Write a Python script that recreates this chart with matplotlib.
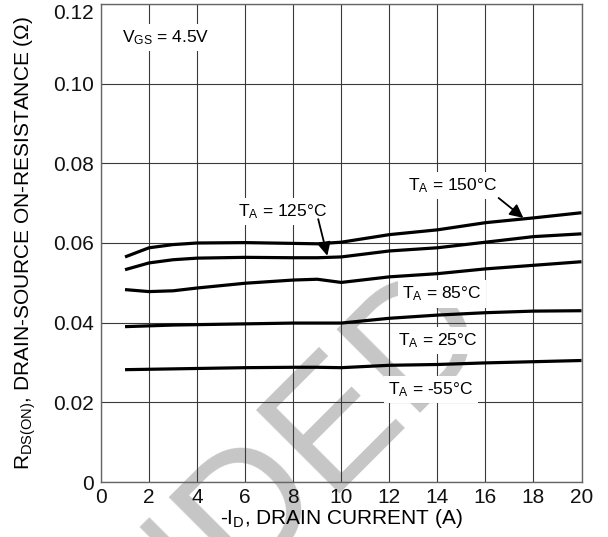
"""R_DS(ON) vs drain current at several ambient temperatures."""

import matplotlib

matplotlib.use("Agg")

import matplotlib.pyplot as plt


FONT = ["Liberation Sans", "DejaVu Sans"]

# curve data (drain current in A, R_DS(on) in ohm)
current_a = [1.0, 2, 3, 4, 6, 8, 9, 10, 12, 14, 16, 18, 20]
r_150c = [0.0565, 0.0588, 0.0596, 0.0600, 0.0601, 0.0599, 0.0598, 0.0602, 0.0621, 0.0633, 0.0651, 0.0663, 0.0676]
r_125c = [0.0533, 0.0550, 0.0558, 0.0562, 0.0564, 0.0563, 0.0563, 0.0565, 0.0580, 0.0588, 0.0602, 0.0616, 0.0623]
r_85c = [0.0483, 0.0478, 0.0480, 0.0487, 0.0499, 0.0507, 0.0509, 0.0501, 0.0515, 0.0523, 0.0535, 0.0544, 0.0553]
r_25c = [0.0390, 0.0392, 0.0394, 0.0395, 0.0397, 0.0399, 0.0399, 0.0399, 0.0411, 0.0419, 0.0425, 0.0429, 0.0430]
r_m55c = [0.0282, 0.0283, 0.0284, 0.0285, 0.0287, 0.0288, 0.0288, 0.0287, 0.0293, 0.0295, 0.0299, 0.0302, 0.0305]

x_ticks = [0, 2, 4, 6, 8, 10, 12, 14, 16, 18, 20]
y_ticks = [0, 0.02, 0.04, 0.06, 0.08, 0.10, 0.12]
y_tick_labels = ["0", "0.02", "0.04", "0.06", "0.08", "0.10", "0.12"]

plt.rcParams["font.family"] = FONT
plt.rcParams["mathtext.fontset"] = "custom"
plt.rcParams["mathtext.rm"] = FONT[0]
plt.rcParams["mathtext.it"] = FONT[0]


def main():
    fig = plt.figure(figsize=(6.08, 5.37), dpi=100)
    ax = fig.add_axes([101 / 608, 1 - 482 / 537, 480.5 / 608, 478 / 537])
    ax.patch.set_alpha(0)

    # faint watermark behind everything
    fig.text(
        498 / 608, 1 - 335 / 537, "NOT RECOMMENDED",
        fontsize=123, color="#c6c6c6", rotation=45, rotation_mode="anchor",
        ha="right", va="baseline", zorder=-5,
    )

    for r in (r_150c, r_125c, r_85c, r_25c, r_m55c):
        ax.plot(current_a, r, color="black", lw=2.3, solid_capstyle="butt", zorder=3)

    ax.set_xlim(0, 20)
    ax.set_ylim(0, 0.12)
    ax.set_xticks(x_ticks)
    ax.set_yticks(y_ticks)
    ax.set_yticklabels(y_tick_labels)
    ax.tick_params(length=0, labelsize=15, colors="#111111")
    ax.tick_params(axis="x", pad=4)
    ax.tick_params(axis="y", pad=5)
    # top label sits just under the frame, as in the reference
    ax.get_yticklabels()[-1].set_va("top")
    ax.grid(True, color="#3a3a3a", lw=0.8)
    for s in ax.spines.values():
        s.set_color("#666666")
        s.set_linewidth(1.0)

    ax.set_xlabel(r"-I$_\mathregular{D}$, DRAIN CURRENT (A)", fontsize=15)
    ax.set_ylabel(r"R$_\mathregular{DS(ON)}$, DRAIN-SOURCE ON-RESISTANCE (Ω)", fontsize=15)
    ax.xaxis.set_label_coords(0.5, -0.052)
    ax.yaxis.set_label_coords(-0.131, 0.5)

    box = dict(boxstyle="square,pad=0.25", fc="white", ec="none")
    ax.text(0.86, 0.1105, r"V$_\mathregular{GS}$ = 4.5V", fontsize=12.5, va="baseline", bbox=box, zorder=4)
    ax.text(12.79, 0.0733, r"T$_\mathregular{A}$ = 150°C", fontsize=12.5, va="baseline", bbox=box, zorder=4)
    ax.text(5.71, 0.0668, r"T$_\mathregular{A}$ = 125°C", fontsize=12.5, va="baseline", bbox=box, zorder=4)
    ax.text(12.54, 0.0460, r"T$_\mathregular{A}$ = 85°C", fontsize=12.5, va="baseline", bbox=box, zorder=4)
    ax.text(12.37, 0.0343, r"T$_\mathregular{A}$ = 25°C", fontsize=12.5, va="baseline", bbox=box, zorder=4)
    ax.text(11.96, 0.0220, r"T$_\mathregular{A}$ = -55°C", fontsize=12.5, va="baseline", bbox=box, zorder=4)

    arrow = dict(arrowstyle="-|>", color="black", lw=1.3, mutation_scale=20, shrinkA=0, shrinkB=0)
    ax.annotate("", xy=(17.58, 0.0663), xytext=(16.55, 0.0713), arrowprops=arrow, zorder=5)
    ax.annotate("", xy=(9.42, 0.0568), xytext=(9.04, 0.0660), arrowprops=arrow, zorder=5)

    fig.savefig("out.png", dpi=100)
    plt.close(fig)


if __name__ == "__main__":
    main()
